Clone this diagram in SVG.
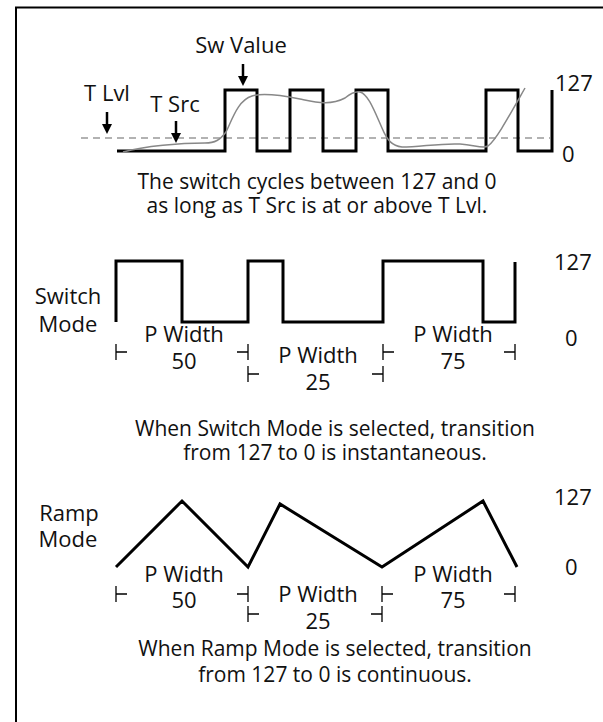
<svg xmlns="http://www.w3.org/2000/svg" width="603" height="722" viewBox="0 0 603 722">
<defs>
<style>
text{font-family:"Open Sans","Noto Sans","Liberation Sans",sans-serif;fill:#111}
.lbl{font-size:22px}
.cap{font-size:21px;text-anchor:middle}
.mid{text-anchor:middle}
.wave{fill:none;stroke:#000;stroke-width:3;stroke-linejoin:miter}
.tick{fill:none;stroke:#000;stroke-width:1.3}
.ptr{stroke:#000;stroke-width:2.5;marker-end:url(#ah)}
</style>
<marker id="ah" viewBox="0 0 10 10" refX="6" refY="5" markerWidth="10" markerHeight="10" markerUnits="userSpaceOnUse" orient="auto">
<path d="M0,0 L10,5 L0,10 z" fill="#000"/>
</marker>
</defs>
<rect width="603" height="722" fill="#fff"/>
<g id="frame"><path d="M16,722 V7.5 H603" fill="none" stroke="#000" stroke-width="2"/></g>

<g id="panel-threshold">
<path d="M81,138 H550" stroke="#999" stroke-width="1.5" stroke-dasharray="7 5" fill="none"/>
<path class="wave" d="M117,151 H225 V90 H257 V151 H290 V90 H323 V151 H356 V90 H388 V151 H486 V90 H518 V151 H552 V90"/>
<path d="M123,152 C145,146 180,143 205,143 C215,143 220,140 226,132 C232,120 238,100 252,96 C262,93 280,95 300,99 C315,102 330,106 345,98 C350,94 355,91 360,92 C368,94 374,110 382,128 C387,140 392,146 402,147 C420,147 440,143 460,144 C475,145 483,149 488,146 C496,140 508,118 525,88" fill="none" stroke="#888" stroke-width="1.5"/>
<text class="lbl mid" x="241" y="53">Sw Value</text>
<text class="lbl mid" x="107" y="101">T Lvl</text>
<text class="lbl mid" x="175" y="112">T Src</text>
<text class="lbl" x="555" y="91">127</text>
<text class="lbl" x="562" y="162">0</text>
<text class="cap" x="317" y="189">The switch cycles between 127 and 0</text>
<text class="cap" x="317" y="213">as long as T Src is at or above T Lvl.</text>
</g>

<g id="panel-switch">
<path class="wave" d="M116,322 V261 H182 V322 H248 V261 H283 V322 H383 V261 H483 V322 H515 V262"/>
<text class="lbl mid" x="68" y="304">Switch</text>
<text class="lbl mid" x="68" y="332">Mode</text>
<text class="lbl" x="554" y="270">127</text>
<text class="lbl" x="565" y="346">0</text>
<text class="lbl mid" x="184" y="342">P Width</text>
<text class="lbl mid" x="184" y="369">50</text>
<text class="lbl mid" x="318" y="363">P Width</text>
<text class="lbl mid" x="318" y="390">25</text>
<text class="lbl mid" x="453" y="342">P Width</text>
<text class="lbl mid" x="453" y="369">75</text>
<path class="tick" d="M116,344V360M116,352H127 M248,344V360M248,352H237 M383,344V360M383,352H394 M515,344V360M515,352H504 M248,366V382M248,374H259 M383,366V382M383,374H372"/>
<text class="cap" x="335" y="436">When Switch Mode is selected, transition</text>
<text class="cap" x="335" y="460">from 127 to 0 is instantaneous.</text>
</g>

<g id="panel-ramp">
<path class="wave" d="M116,567 L182,501 L248,567 L280,504 L382,567 L483,501 L517,567"/>
<text class="lbl mid" x="69" y="521">Ramp</text>
<text class="lbl mid" x="68" y="547">Mode</text>
<text class="lbl" x="554" y="505">127</text>
<text class="lbl" x="565" y="575">0</text>
<text class="lbl mid" x="184" y="582">P Width</text>
<text class="lbl mid" x="184" y="608">50</text>
<text class="lbl mid" x="318" y="602">P Width</text>
<text class="lbl mid" x="318" y="629">25</text>
<text class="lbl mid" x="453" y="582">P Width</text>
<text class="lbl mid" x="453" y="608">75</text>
<path class="tick" d="M116,586V602M116,594H127 M248,586V602M248,594H237 M382,586V602M382,594H393 M515,586V602M515,594H504 M248,606V622M248,614H259 M382,606V622M382,614H371"/>
<text class="cap" x="335" y="656">When Ramp Mode is selected, transition</text>
<text class="cap" x="335" y="682">from 127 to 0 is continuous.</text>
</g>

<g id="connectors">
<line class="ptr" x1="243" y1="64" x2="243" y2="82"/>
<line class="ptr" x1="107" y1="112" x2="107" y2="130"/>
<line class="ptr" x1="176" y1="121" x2="176" y2="139"/>
</g>
</svg>
